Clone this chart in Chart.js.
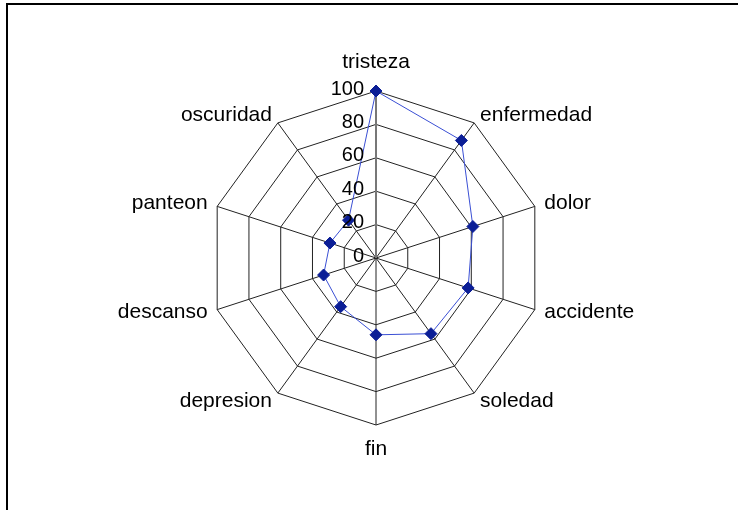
<!DOCTYPE html>
<html>
<head>
<meta charset="utf-8">
<script src="https://cdn.jsdelivr.net/npm/chart.js@4"></script>
<style>
  html, body { margin: 0; padding: 0; background: #fff; }
  #wrap { position: relative; width: 738px; height: 510px; overflow: hidden; }
  #frame { position: absolute; left: 6px; top: 3px; width: 800px; height: 600px;
           border-top: 2px solid #000; border-left: 2px solid #000; pointer-events: none; }
</style>
</head>
<body>
<div id="wrap">
  <canvas id="radar" width="738" height="510"></canvas>
  <div id="frame"></div>
</div>
<script>
// categories and values
const categories = ['tristeza', 'enfermedad', 'dolor', 'accidente', 'soledad',
                    'fin', 'depresion', 'descanso', 'panteon', 'oscuridad'];
const values = [100, 87, 61, 58, 56, 46, 36, 33, 29, 28];
const tickValues = [0, 20, 40, 60, 80, 100];

const FONT = "'Liberation Sans', Arial, sans-serif";

// Excel-like labels: ticks right aligned left of the vertical axis,
// category names placed beside each spoke end
const radarText = {
  id: 'radarText',
  afterDraw(chart) {
    const scale = chart.scales.r;
    const ctx = chart.ctx;
    const R = scale.getDistanceFromCenterForValue(100);
    ctx.save();
    ctx.fillStyle = '#000';

    ctx.font = '20px ' + FONT;
    ctx.textAlign = 'right';
    ctx.textBaseline = 'middle';
    tickValues.forEach(v => {
      const d = scale.getDistanceFromCenterForValue(v);
      ctx.fillText(String(v), scale.xCenter - 12, scale.yCenter - d - 2);
    });

    ctx.font = '21px ' + FONT;
    categories.forEach((name, i) => {
      const p = scale.getPointPosition(i, R + 10);
      const v = scale.getPointPosition(i, R);
      const dx = p.x - scale.xCenter;
      if (Math.abs(dx) < 1) {
        ctx.textAlign = 'center';
        ctx.textBaseline = 'alphabetic';
        const top = v.y < scale.yCenter;
        ctx.fillText(name, v.x, top ? v.y - 23 : v.y + 30);
      } else {
        ctx.textAlign = dx > 0 ? 'left' : 'right';
        ctx.textBaseline = 'middle';
        ctx.fillText(name, p.x, p.y);
      }
    });
    ctx.restore();
  }
};

const chart = new Chart(document.getElementById('radar'), {
  type: 'radar',
  data: {
    labels: categories,
    datasets: [{
      data: values,
      borderColor: '#3a4fd4',
      borderWidth: 1,
      backgroundColor: 'rgba(0,0,0,0)',
      fill: false,
      pointStyle: 'rectRot',
      pointRadius: 6,
      pointBackgroundColor: '#0b1e96',
      pointBorderColor: '#0b1e96',
      pointBorderWidth: 1,
      tension: 0
    }]
  },
  options: {
    responsive: false,
    animation: false,
    layout: { padding: { top: 91, bottom: 85, left: 14, right: 0 } },
    plugins: {
      legend: { display: false },
      tooltip: { enabled: false }
    },
    scales: {
      r: {
        min: 0,
        max: 100,
        beginAtZero: true,
        ticks: { stepSize: 20, display: false },
        grid: { color: '#222', lineWidth: 1 },
        angleLines: {
          color: ctx => ctx.index === 0 ? '#777' : '#222',
          lineWidth: ctx => ctx.index === 0 ? 2 : 1
        },
        pointLabels: { display: false }
      }
    }
  },
  plugins: [radarText]
});
</script>
</body>
</html>
